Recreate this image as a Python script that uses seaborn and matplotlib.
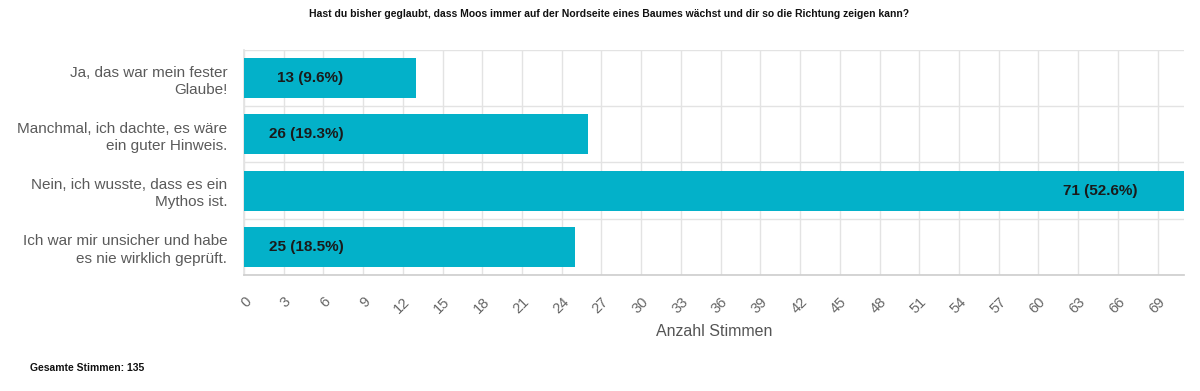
import matplotlib
matplotlib.use("Agg")
import matplotlib.pyplot as plt
import seaborn as sns
import pandas as pd
from matplotlib.ticker import MultipleLocator, FixedLocator

title = "Hast du bisher geglaubt, dass Moos immer auf der Nordseite eines Baumes wächst und dir so die Richtung zeigen kann?"
categories = [
    "Ja, das war mein fester\nGlaube!",
    "Manchmal, ich dachte, es wäre\nein guter Hinweis.",
    "Nein, ich wusste, dass es ein\nMythos ist.",
    "Ich war mir unsicher und habe\nes nie wirklich geprüft.",
]
votes = [13, 26, 71, 25]
percents = ["9.6%", "19.3%", "52.6%", "18.5%"]
total_label = "Gesamte Stimmen: 135"
xlabel = "Anzahl Stimmen"

df = pd.DataFrame({"Antwort": categories, "Stimmen": votes})

sns.set_theme(style="white")
plt.rcParams["font.family"] = ["Liberation Sans", "DejaVu Sans"]

fig = plt.figure(figsize=(12, 3.91), dpi=100)
ax = fig.add_axes([0.2033, 0.2967, 0.7834, 0.5754])

bar_color = "#03b1c9"
grid_color = "#e3e3e3"
sns.barplot(data=df, y="Antwort", x="Stimmen", orient="h", color=bar_color,
            width=0.71, saturation=1, ax=ax, zorder=3, edgecolor=bar_color,
            linewidth=0)

ax.set_xlim(0, 71)
ax.set_ylim(3.5, -0.5)
ax.xaxis.set_major_locator(MultipleLocator(3))
ax.yaxis.set_minor_locator(FixedLocator([-0.5, 0.5, 1.5, 2.5, 3.5]))
ax.grid(True, axis="x", which="major", color=grid_color, lw=1, zorder=0)
ax.grid(True, axis="y", which="minor", color=grid_color, lw=1, zorder=0)
ax.set_axisbelow(True)

for s in ["top", "right"]:
    ax.spines[s].set_visible(False)
ax.spines["left"].set_color(grid_color)
ax.spines["bottom"].set_color("#cfcfcf")

ax.tick_params(axis="x", which="major", length=10, color=grid_color, width=1,
               labelsize=10.5, labelcolor="#666666", pad=4)
ax.tick_params(axis="y", which="major", length=0, labelsize=11,
               labelcolor="#5a5a5a", pad=12)
ax.tick_params(axis="y", which="minor", length=10, color=grid_color, width=1)

for lbl in ax.get_xticklabels():
    lbl.set_rotation(45)
    lbl.set_ha("right")
    lbl.set_va("top")
    lbl.set_rotation_mode("anchor")

for lbl in ax.get_yticklabels():
    lbl.set_linespacing(1.3)

ax.set_ylabel("")
ax.set_xlabel(xlabel, fontsize=11.5, color="#555555", labelpad=6)

for i, (v, p) in enumerate(zip(votes, percents)):
    txt = f"{v} ({p})"
    if v > 50:
        ax.text(v - 3.55, i, txt, ha="right", va="center", fontsize=11,
                fontweight="bold", color="#1a1a1a", zorder=4)
    else:
        ax.text(7.5, i, txt, ha="right", va="center", fontsize=11,
                fontweight="bold", color="#1a1a1a", zorder=4)

fig.text(0.5075, 0.963, title, ha="center", va="center", fontsize=7.5,
         fontweight="bold", color="#111111")
fig.text(0.025, 0.058, total_label, ha="left", va="center", fontsize=7.5,
         fontweight="bold", color="#111111")

fig.savefig("out.png", dpi=100)
